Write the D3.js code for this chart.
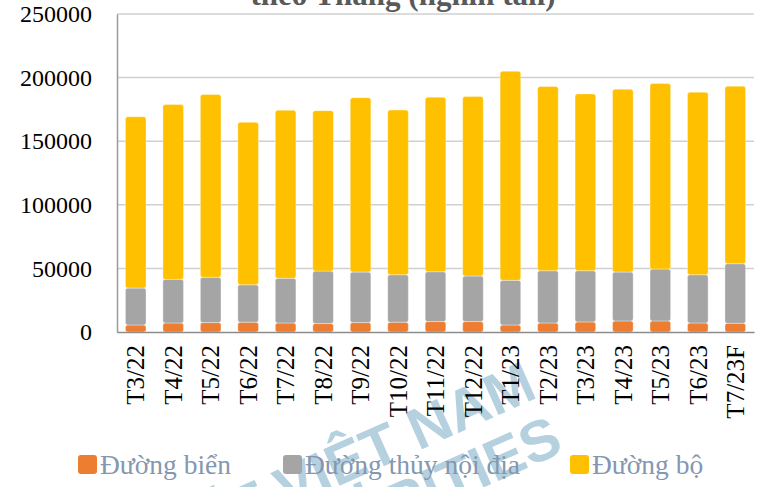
<!DOCTYPE html>
<html>
<head>
<meta charset="utf-8">
<script src="https://cdn.jsdelivr.net/npm/d3@7"></script>
<style>
  body { margin: 0; background: #fff; }
  svg { display: block; }
  text { font-family: "Liberation Serif", "Times New Roman", serif; }
</style>
</head>
<body>
<div id="chart"></div>
<script>
// san luong van tai hang hoa theo thang (nghin tan)
var categories = ["T3/22", "T4/22", "T5/22", "T6/22", "T7/22", "T8/22", "T9/22", "T10/22", "T11/22",
                  "T12/22", "T1/23", "T2/23", "T3/23", "T4/23", "T5/23", "T6/23", "T7/23F"];
var duongBien = [5500, 7100, 7400, 7700, 7100, 6600, 7400, 7700, 8200, 8200, 5500, 7100, 7900, 8700, 8700, 7100, 6900];
var duongThuy = [29000, 34300, 35600, 29400, 35100, 41300, 39700, 37300, 39200, 35800, 35100, 41100, 40300, 38400, 40800, 37900, 46800];
var duongBo = [134800, 137400, 143700, 127700, 132100, 126100, 137100, 129500, 137100, 141100, 164400, 144800, 139000, 143700, 145800, 143500, 139500];
var yTicks = [0, 50000, 100000, 150000, 200000, 250000];
var seriesNames = ["Đường biển", "Đường thủy nội địa", "Đường bộ"];
var colors = ["#ed7d31", "#a5a5a5", "#ffc000"];

var width = 764, height = 487;
var margin = {top: 14, right: 10, bottom: 155, left: 117};

var svg = d3.select("#chart").append("svg")
    .attr("width", width)
    .attr("height", height);

var rows = categories.map(function(c, i) {
    return {cat: c, bien: duongBien[i], thuy: duongThuy[i], bo: duongBo[i]};
});
var stacked = d3.stack().keys(["bien", "thuy", "bo"])(rows);

var x = d3.scaleBand()
    .domain(categories)
    .range([margin.left, width - margin.right])
    .paddingInner(0.45)
    .paddingOuter(0.225);

var y = d3.scaleLinear()
    .domain([0, 250000])
    .range([height - margin.bottom, margin.top]);

// title (cut off at the top in the original)
svg.append("text")
    .attr("x", 403)
    .attr("y", 5)
    .attr("text-anchor", "middle")
    .style("font-size", "31px")
    .style("font-weight", "bold")
    .style("fill", "#595959")
    .text("theo Tháng (nghìn tấn)");

// gridlines
svg.append("g")
    .selectAll("line")
    .data(yTicks.slice(1))
    .enter().append("line")
    .attr("x1", margin.left)
    .attr("x2", width - margin.right)
    .attr("y1", function(d) { return y(d); })
    .attr("y2", function(d) { return y(d); })
    .style("stroke", "#d0d0d0")
    .style("stroke-width", 1.5);

// watermark
var wm = svg.append("g")
    .attr("transform", "translate(553,428) rotate(-24)")
    .style("fill", "#a9c9da")
    .style("opacity", 0.85)
    .style("font-weight", "bold");
wm.append("text")
    .attr("x", 0).attr("y", -34)
    .attr("text-anchor", "end")
    .style("font-family", "'Liberation Sans', Arial, sans-serif")
    .style("font-size", "58px")
    .text("KIẾN THIẾT VIỆT NAM");
wm.append("text")
    .attr("x", 2).attr("y", 26)
    .attr("text-anchor", "end")
    .style("font-family", "'Liberation Sans', Arial, sans-serif")
    .style("font-size", "58px")
    .text("SECURITIES");

// bars
svg.append("g")
    .selectAll("g")
    .data(stacked)
    .enter().append("g")
    .style("fill", function(d, i) { return colors[i]; })
    .selectAll("rect")
    .data(function(d) { return d; })
    .enter().append("rect")
    .attr("x", function(d) { return x(d.data.cat); })
    .attr("y", function(d) { return y(d[1]); })
    .attr("width", x.bandwidth())
    .attr("height", function(d) { return y(d[0]) - y(d[1]); })
    .attr("rx", 2.5)
    .style("stroke", "#ffffff")
    .style("stroke-opacity", 0.35)
    .style("stroke-width", 1);

// y axis
var yAxis = svg.append("g")
    .attr("transform", "translate(" + margin.left + ",0)")
    .call(d3.axisLeft(y).tickValues(yTicks).tickSize(0).tickPadding(25).tickFormat(d3.format("d")));
yAxis.attr("font-family", null);
yAxis.select(".domain").style("stroke", "#9a9a9a").style("stroke-width", 1.5);
yAxis.selectAll("text")
    .style("font-family", "'Liberation Serif', 'Times New Roman', serif")
    .style("font-size", "24px")
    .style("fill", "#000");

// x axis
var xAxis = svg.append("g")
    .attr("transform", "translate(0," + y(0) + ")")
    .call(d3.axisBottom(x).tickSize(0).tickSizeOuter(0));
xAxis.attr("font-family", null);
xAxis.select(".domain").style("stroke", "#8c8c8c").style("stroke-width", 1.5);
xAxis.selectAll("text")
    .style("font-family", "'Liberation Serif', 'Times New Roman', serif")
    .style("font-size", "25px")
    .style("fill", "#000")
    .attr("text-anchor", "end")
    .attr("transform", "rotate(-90)")
    .attr("x", -13)
    .attr("y", 0)
    .attr("dy", "0.35em");

// legend
var legendX = [78, 283, 570];
var legend = svg.append("g")
    .selectAll("g")
    .data(seriesNames)
    .enter().append("g")
    .attr("transform", function(d, i) { return "translate(" + legendX[i] + ",455)"; });
legend.append("rect")
    .attr("width", 19)
    .attr("height", 19)
    .attr("rx", 3)
    .style("fill", function(d, i) { return colors[i]; });
legend.append("text")
    .attr("x", 22)
    .attr("y", 19)
    .style("font-size", "27.5px")
    .style("fill", "#8497b0")
    .text(function(d) { return d; });
</script>
</body>
</html>
